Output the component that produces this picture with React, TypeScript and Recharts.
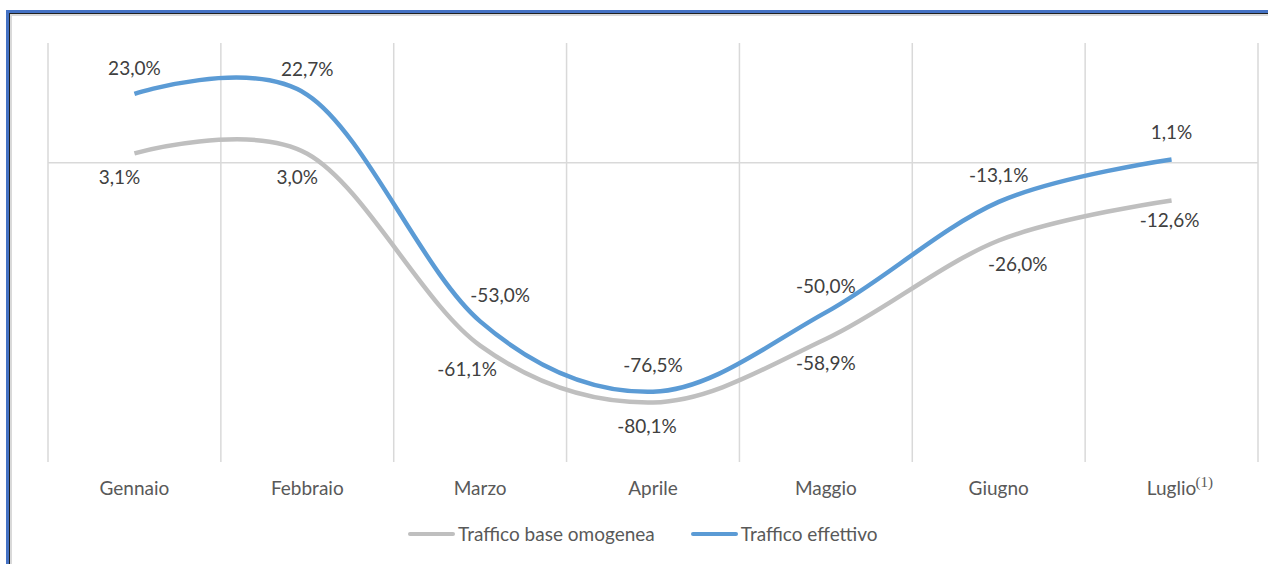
import React from 'react';
import { LineChart, Line, XAxis, YAxis, CartesianGrid, ReferenceLine, LabelList } from 'recharts';

// ---- data ----
const months = ['Gennaio', 'Febbraio', 'Marzo', 'Aprile', 'Maggio', 'Giugno', 'Luglio'];
const monthNotes = ['', '', '', '', '', '', '(1)'];
const trafficoBase = [3.1, 3.0, -61.1, -80.1, -58.9, -26.0, -12.6];
const trafficoEffettivo = [23.0, 22.7, -53.0, -76.5, -50.0, -13.1, 1.1];
const seriesNames = ['Traffico base omogenea', 'Traffico effettivo'];
const yDomain = [-100, 40];

// ---- styles ----
const FONT = 'Lato, "Open Sans", sans-serif';
const FS = 19;
const BLUE = '#5B9BD5';
const GRAY = '#BFBFBF';
const GRID = '#D9D9D9';
const LABEL_COLOR = '#404040';
const AXIS_COLOR = '#595959';
const baseLabelDx = [-15, -10, -13, -6, 0, 19, -2];
const baseLabelDy = [24, 24, 24, 24, 24, 24, 20];
const effLabelDx = [0, 0, 20, 0, 0, 0, 0];
const effLabelDy = [-26, -26, -26, -26, -26, -27, -27];

const data = months.map((m, i) => ({
  month: m,
  note: monthNotes[i],
  base: trafficoBase[i],
  eff: trafficoEffettivo[i],
}));

// Catmull-Rom (cardinal, tension 0) curve, similar to Excel smoothing
function catmullRom(context: any) {
  const k = 1 / 6;
  let x0 = NaN, x1 = NaN, x2 = NaN, y0 = NaN, y1 = NaN, y2 = NaN;
  let pt = 0;
  let line: number = NaN;
  const bez = (x: number, y: number) => {
    context.bezierCurveTo(
      x1 + k * (x2 - x0),
      y1 + k * (y2 - y0),
      x2 + k * (x1 - x),
      y2 + k * (y1 - y),
      x2,
      y2
    );
  };
  return {
    areaStart() { line = 0; },
    areaEnd() { line = NaN; },
    lineStart() { x0 = x1 = x2 = y0 = y1 = y2 = NaN; pt = 0; },
    lineEnd() {
      switch (pt) {
        case 2: context.lineTo(x2, y2); break;
        case 3: bez(x1, y1); break;
      }
      if (line || (line !== 0 && pt === 1)) context.closePath();
      line = 1 - line;
    },
    point(x: number, y: number) {
      x = +x; y = +y;
      switch (pt) {
        case 0: pt = 1; line ? context.lineTo(x, y) : context.moveTo(x, y); break;
        case 1: pt = 2; x1 = x; y1 = y; break;
        case 2: pt = 3; bez(x, y); break;
        default: bez(x, y); break;
      }
      x0 = x1; x1 = x2; x2 = x;
      y0 = y1; y1 = y2; y2 = y;
    },
  };
}

const fmt = (v: number) => v.toFixed(1).replace('.', ',') + '%';

const makeLabel = (dyArr: number[], dxArr: number[]) => (props: any) => {
  const vx = props.x ?? props.viewBox?.x;
  const vy = props.y ?? props.viewBox?.y;
  const idx = props.index ?? 0;
  if (vx == null || vy == null) return null;
  return (
    <text
      x={vx + (dxArr[idx] || 0)}
      y={vy + (dyArr[idx] || 0)}
      dy="0.355em"
      textAnchor="middle"
      fill={LABEL_COLOR}
      fontSize={FS}
      fontFamily={FONT}
    >
      {fmt(Number(props.value))}
    </text>
  );
};

const MonthTick = (props: any) => {
  const { x, y, payload, index } = props;
  const note = monthNotes[index ?? payload.index] || '';
  return (
    <g>
      <text x={x} y={y + 26} dy="0.355em" textAnchor="middle" fill={AXIS_COLOR} fontSize={FS} fontFamily={FONT}>
        {payload.value}
      </text>
      {note ? (
        <text x={x + 24} y={y + 20} dy="0.355em" textAnchor="start" fill={AXIS_COLOR} fontSize={15} fontFamily='"Liberation Serif", serif'>
          {note}
        </text>
      ) : null}
    </g>
  );
};

const LegendItem = ({ color, name }: { color: string; name: string }) => (
  <div style={{ display: 'flex', alignItems: 'center', marginRight: 36 }}>
    <div style={{ width: 47, height: 4, borderRadius: 2, background: color, marginRight: 3 }} />
    <span style={{ fontFamily: FONT, fontSize: FS, color: AXIS_COLOR, whiteSpace: 'nowrap' }}>{name}</span>
  </div>
);

export default function App() {
  return (
    <div style={{ position: 'absolute', left: 0, top: 0, width: 1268, height: 564, overflow: 'hidden', background: '#fff' }}>
      <div
        style={{
          position: 'absolute',
          left: 6,
          top: 10,
          width: 1290,
          height: 600,
          border: '3px solid #4472C4',
          boxSizing: 'border-box',
        }}
      >
        <div style={{ width: '100%', height: '100%', borderTop: '1px solid #222', borderLeft: '1px solid #222', boxSizing: 'border-box' }}>
          <div style={{ width: '100%', height: '100%', borderTop: '2px solid #D9D9D9', borderLeft: '2px solid #D9D9D9', boxSizing: 'border-box' }} />
        </div>
      </div>
      <div style={{ position: 'absolute', left: 0, top: 0 }}>
        <LineChart width={1268} height={564} data={data} margin={{ top: 43, right: 10, left: 48, bottom: 62 }}>
          <CartesianGrid
            horizontal={false}
            vertical
            stroke={GRID}
            strokeWidth={1.5}
            verticalCoordinatesGenerator={({ offset }: any) =>
              Array.from({ length: months.length + 1 }, (_, i) => offset.left + (i * offset.width) / months.length)
            }
          />
          <XAxis
            dataKey="month"
            scale="band"
            axisLine={false}
            tickLine={false}
            tickSize={0}
            tickMargin={0}
            height={40}
            interval={0}
            tick={<MonthTick />}
          />
          <YAxis hide domain={yDomain} type="number" />
          <ReferenceLine y={0} stroke={GRID} strokeWidth={1.5} ifOverflow="extendDomain" />
          <Line
            dataKey="base"
            name={seriesNames[0]}
            stroke={GRAY}
            strokeWidth={4.5}
            type={catmullRom as any}
            dot={false}
            activeDot={false}
            isAnimationActive={false}
          >
            <LabelList dataKey="base" content={makeLabel(baseLabelDy, baseLabelDx)} />
          </Line>
          <Line
            dataKey="eff"
            name={seriesNames[1]}
            stroke={BLUE}
            strokeWidth={4.5}
            type={catmullRom as any}
            dot={false}
            activeDot={false}
            isAnimationActive={false}
          >
            <LabelList dataKey="eff" content={makeLabel(effLabelDy, effLabelDx)} />
          </Line>
        </LineChart>
      </div>
      <div style={{ position: 'absolute', left: 408, top: 522, display: 'flex', alignItems: 'center' }}>
        <LegendItem color={GRAY} name={seriesNames[0]} />
        <LegendItem color={BLUE} name={seriesNames[1]} />
      </div>
    </div>
  );
}
